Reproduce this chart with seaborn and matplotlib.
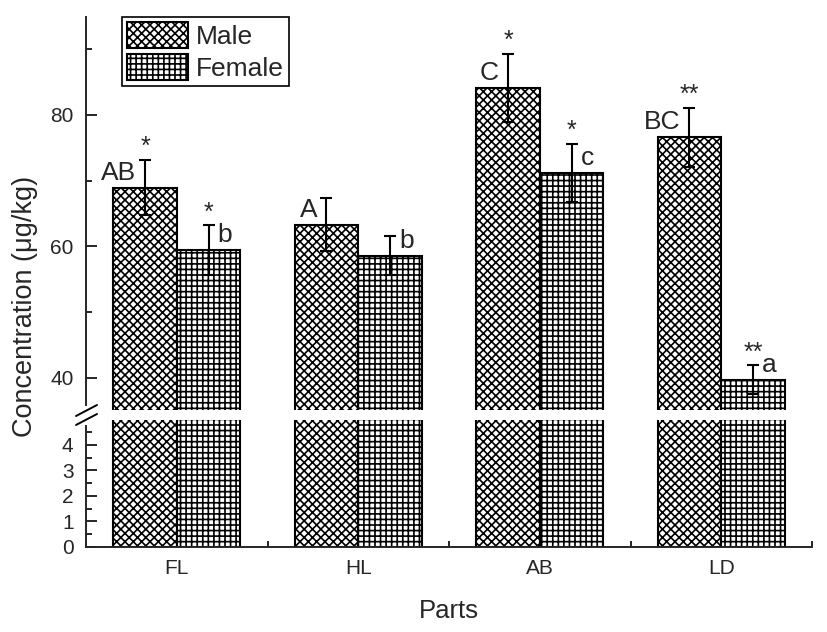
import pandas as pd
import matplotlib
matplotlib.use("Agg")
import matplotlib.pyplot as plt
from matplotlib.lines import Line2D
from matplotlib.ticker import MultipleLocator
import seaborn as sns

# values
parts = ["FL", "HL", "AB", "LD"]
male = [68.9, 63.3, 84.1, 76.6]
female = [59.4, 58.6, 71.2, 39.7]
male_err = [4.2, 4.0, 5.2, 4.5]
female_err = [3.8, 3.0, 4.4, 2.2]
male_letters = ["AB", "A", "C", "BC"]
female_letters = ["b", "b", "c", "a"]
male_stars = ["*", "", "*", "**"]
female_stars = ["*", "", "*", "**"]

sns.set_style("ticks")
plt.rcParams["font.family"] = ["Liberation Sans", "DejaVu Sans"]
plt.rcParams["hatch.linewidth"] = 1.2
plt.rcParams["hatch.color"] = "black"

df = pd.DataFrame({
    "Parts": parts * 2,
    "Concentration": male + female,
    "Sex": ["Male"] * 4 + ["Female"] * 4,
})

W, H = 827, 632
fig = plt.figure(figsize=(W / 100, H / 100), dpi=100)


def px_box(left, top, right, bottom):
    return [left / W, 1 - bottom / H, (right - left) / W, (bottom - top) / H]


ax_top = fig.add_axes(px_box(86, 17, 812, 410))
ax_bot = fig.add_axes(px_box(86, 420, 812, 547))

for ax in (ax_top, ax_bot):
    sns.barplot(data=df, x="Parts", y="Concentration", hue="Sex",
                hue_order=["Male", "Female"],
                palette={"Male": "white", "Female": "white"},
                width=0.7, edgecolor="black", linewidth=1.5,
                errorbar=None, legend=False, ax=ax)
    for cont, hatch in zip(ax.containers, ["xxxx", "+++"]):
        for bar in cont:
            bar.set_hatch(hatch)
    ax.set_xlim(-0.5, 3.5)
    ax.set_xlabel("")
    ax.set_ylabel("")
    for s in ["top", "right"]:
        ax.spines[s].set_visible(False)
    ax.spines["left"].set_linewidth(1.4)
    ax.spines["bottom"].set_linewidth(1.4)

male_x = [b.get_x() + b.get_width() / 2 for b in ax_top.containers[0]]
female_x = [b.get_x() + b.get_width() / 2 for b in ax_top.containers[1]]

# legend
handles = [ax_top.containers[0][0], ax_top.containers[1][0]]
leg = ax_top.legend(handles, ["Male", "Female"], loc="upper left",
                    bbox_to_anchor=(122 / W, 1 - 17 / H),
                    bbox_transform=fig.transFigure, borderaxespad=0,
                    fontsize=19, frameon=True, fancybox=False,
                    edgecolor="black", framealpha=1, handlelength=2.3,
                    handleheight=1.1, labelspacing=0.2, handletextpad=0.3,
                    borderpad=0.2)
leg.get_frame().set_linewidth(1.2)

# error bars
for xs, vals, errs in [(male_x, male, male_err), (female_x, female, female_err)]:
    ax_top.errorbar(xs, vals, yerr=errs, fmt="none", ecolor="black",
                    elinewidth=1.5, capsize=4, capthick=1.5)

# letters and stars
for i in range(len(parts)):
    ax_top.text(male_x[i] - 0.05, male[i] + 1.2, male_letters[i],
                ha="right", va="baseline", fontsize=19)
    ax_top.text(female_x[i] + 0.05, female[i] + 1.2, female_letters[i],
                ha="left", va="baseline", fontsize=19)
    ax_top.text(male_x[i], male[i] + male_err[i] + 0.9, male_stars[i],
                ha="center", va="baseline", fontsize=18)
    ax_top.text(female_x[i], female[i] + female_err[i] + 0.9, female_stars[i],
                ha="center", va="baseline", fontsize=18)

# upper axis
ax_top.set_ylim(35.1, 94.9)
ax_top.spines["bottom"].set_visible(False)
ax_top.spines["left"].set_bounds(35.8, 94.9)
ax_top.set_yticks([40, 60, 80])
ax_top.yaxis.set_minor_locator(MultipleLocator(10))
ax_top.tick_params(axis="y", which="major", direction="in", length=8,
                   width=1.4, labelsize=15, pad=9)
ax_top.tick_params(axis="y", which="minor", direction="in", length=4.5, width=1.4)
ax_top.tick_params(axis="x", which="both", bottom=False, labelbottom=False)

# lower axis
ax_bot.set_ylim(0, 4.98)
ax_bot.spines["left"].set_bounds(0, 4.75)
ax_bot.set_yticks([0, 1, 2, 3, 4])
ax_bot.yaxis.set_minor_locator(MultipleLocator(0.5))
ax_bot.tick_params(axis="y", which="major", direction="in", length=8,
                   width=1.4, labelsize=15, pad=9)
ax_bot.tick_params(axis="y", which="minor", direction="in", length=4.5, width=1.4)
ax_bot.set_xticks(range(len(parts)))
ax_bot.set_xticklabels(parts)
ax_bot.xaxis.set_minor_locator(MultipleLocator(1, offset=0.5))
ax_bot.tick_params(axis="x", which="major", length=0, labelsize=15, pad=9)
ax_bot.tick_params(axis="x", which="minor", direction="in", length=4, width=1.4)
ax_bot.set_xlabel("Parts", fontsize=18.5, labelpad=15)

# axis break marks
for y1, y2 in [(416, 405), (425, 414)]:
    fig.add_artist(Line2D([76 / W, 97 / W], [1 - y1 / H, 1 - y2 / H],
                          transform=fig.transFigure, color="black", lw=1.4))

fig.text(25 / W, 1 - 306 / H, "Concentration (μg/kg)", rotation=90,
         ha="center", va="center", fontsize=19.5)

fig.savefig("out.png", dpi=100, facecolor="white")
